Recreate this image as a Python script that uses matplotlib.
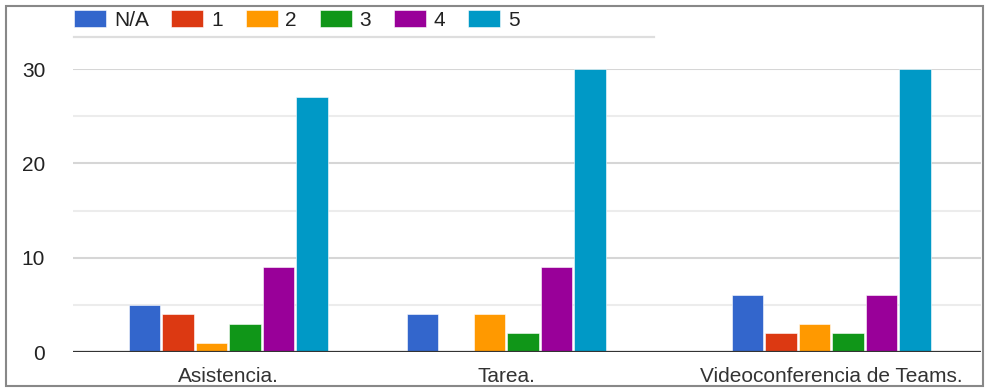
import matplotlib
matplotlib.use("Agg")
import matplotlib.pyplot as plt
import numpy as np
from matplotlib.patches import Rectangle
from matplotlib.lines import Line2D

plt.rcParams['font.family'] = ['Liberation Sans', 'DejaVu Sans']

categories = ['Asistencia.', 'Tarea.', 'Videoconferencia de Teams.']
series = ['N/A', '1', '2', '3', '4', '5']
colors = ['#3366CC', '#DC3912', '#FF9900', '#109618', '#990099', '#0099C6']
values = {
    'N/A': [5, 4, 6],
    '1': [4, 0, 2],
    '2': [1, 4, 3],
    '3': [3, 2, 2],
    '4': [9, 9, 6],
    '5': [27, 30, 30],
}

W, H = 988, 389
fig = plt.figure(figsize=(W / 100, H / 100), dpi=100)
ax = fig.add_axes([73 / W, (H - 352) / H, (981 - 73) / W, (352 - 69) / H])

# group centres and bar spacing in horizontal pixel units
centers = np.array([228, 506, 831])
step = 33.5
width = 31.5

for i, (name, col) in enumerate(zip(series, colors)):
    x = centers + (i - 2.5) * step
    ax.bar(x, values[name], width=width, color=col, edgecolor='white',
           linewidth=0.4, label=name, zorder=3)

ax.set_xlim(73, 981)
ax.set_ylim(0, 30)
ax.set_yticks([0, 10, 20, 30])
ax.set_yticks([5, 15, 25], minor=True)
ax.grid(axis='y', which='major', color='#d6d6d6', linewidth=1.5, zorder=0)
ax.grid(axis='y', which='minor', color='#ececec', linewidth=1.5, zorder=0)
ax.axhline(0, color='#333333', linewidth=1.6, zorder=4)

ax.set_xticks(centers, categories)
ax.tick_params(axis='x', length=0, pad=11, labelsize=15, labelcolor='#333333')
ax.tick_params(axis='y', which='both', length=0, pad=20, labelsize=15,
               labelcolor='#222222')
for s in ax.spines.values():
    s.set_visible(False)
ax.set_clip_on(False)

leg = fig.legend(loc='upper left', bbox_to_anchor=(74 / W, 1 - 10 / H),
                 ncol=6, frameon=False, fontsize=15, borderpad=0,
                 borderaxespad=0, handlelength=1.54, handleheight=0.87,
                 handletextpad=0.38, columnspacing=1.08)
for t in leg.get_texts():
    t.set_color('#222222')

# rule under the legend
fig.add_artist(Line2D([74 / W, 654 / W], [1 - 37 / H, 1 - 37 / H],
                      color='#dedede', linewidth=1.6))
# outer frame
fig.add_artist(Rectangle((6 / W, 1 - 386 / H), 977 / W, 380 / H,
                         fill=False, edgecolor='#888888', linewidth=1.5))

fig.savefig('out.png', dpi=100)
